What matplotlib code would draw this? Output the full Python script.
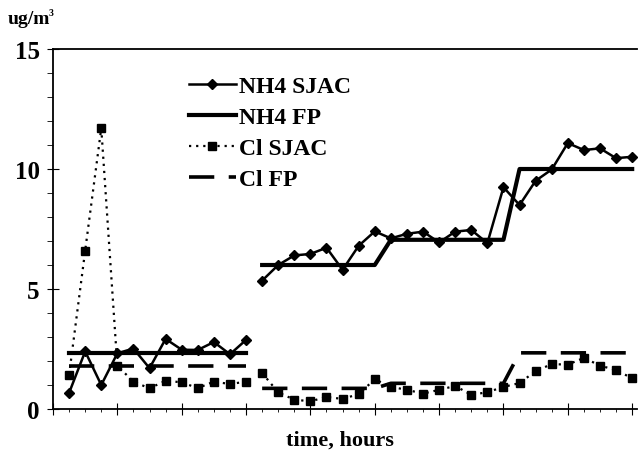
import numpy as np
import matplotlib
matplotlib.use("Agg")
import matplotlib.pyplot as plt
from matplotlib.ticker import MultipleLocator

plt.rcParams['font.family'] = ['Liberation Serif', 'DejaVu Serif']
plt.rcParams['font.weight'] = 'bold'

# two sampling runs, hourly
hours1 = list(range(1, 13))
hours2 = list(range(13, 37))

nh4_sjac1 = [0.67, 2.40, 1.0, 2.32, 2.52, 1.70, 2.92, 2.47, 2.46, 2.79, 2.28, 2.88]
nh4_sjac2 = [5.35, 6.0, 6.4, 6.46, 6.72, 5.8, 6.8, 7.4, 7.11, 7.3, 7.39, 6.94,
             7.39, 7.46, 6.91, 9.24, 8.5, 9.51, 9.98, 11.08, 10.79, 10.86, 10.45, 10.51]
nh4_fp1 = [2.33] * 12
nh4_fp2 = [6.0] * 8 + [7.05] * 8 + [10.0] * 8

cl_sjac1 = [1.42, 6.6, 11.7, 1.8, 1.14, 0.86, 1.18, 1.11, 0.87, 1.14, 1.04, 1.14]
cl_sjac2 = [1.5, 0.69, 0.39, 0.32, 0.5, 0.42, 0.62, 1.24, 0.92, 0.8, 0.64, 0.8,
            0.96, 0.59, 0.7, 0.92, 1.08, 1.58, 1.87, 1.85, 2.13, 1.81, 1.62, 1.28]
cl_fp1 = [1.8] * 12
cl_fp2 = [0.86] * 8 + [1.07] * 8 + [2.34] * 8

fig = plt.figure(figsize=(6.38, 4.6), dpi=100)
ax = fig.add_axes([53/638, 1 - 410/460, 584/638, 360/460])

k = 'black'
for h, v in [(hours1, nh4_sjac1), (hours2, nh4_sjac2)]:
    l1, = ax.plot(h, v, color=k, lw=1.8, marker='D', ms=4.8)
for h, v in [(hours1, nh4_fp1), (hours2, nh4_fp2)]:
    l2, = ax.plot(h, v, color=k, lw=3.0)
for h, v in [(hours1, cl_sjac1), (hours2, cl_sjac2)]:
    l3, = ax.plot(h, v, color=k, lw=1.6, ls=(0, (1, 2.2)), marker='s', ms=5.5)
for h, v in [(hours1, cl_fp1), (hours2, cl_fp2)]:
    l4, = ax.plot(h, v, color=k, lw=2.6, ls=(0, (7, 4)))

ax.set_xlim(0, 36.3)
ax.set_ylim(0, 15)
ax.xaxis.set_major_locator(MultipleLocator(4))
ax.xaxis.set_minor_locator(MultipleLocator(1))
ax.yaxis.set_major_locator(MultipleLocator(5))
ax.yaxis.set_minor_locator(MultipleLocator(1))
ax.tick_params(axis='x', which='major', direction='inout', length=8, labelbottom=False)
ax.tick_params(axis='x', which='minor', direction='out', length=2)
ax.tick_params(axis='y', which='major', direction='inout', length=9, labelsize=18, pad=5)
ax.tick_params(axis='y', which='minor', direction='out', length=4)
for lab in ax.get_yticklabels():
    lab.set_fontweight('bold')
ax.spines['right'].set_visible(False)
for s in ['left', 'bottom', 'top']:
    ax.spines[s].set_linewidth(1.3)

fig.text(8/638, 1 - 24/460, 'ug/m', fontsize=14, fontweight='bold', va='baseline')
fig.text(49/638, 1 - 16/460, '3', fontsize=7, fontweight='bold', va='baseline')
fig.text(340/638, 1 - 446/460, 'time, hours', fontsize=16, fontweight='bold', ha='center')

leg = ax.legend([l1, l2, l3, l4], ['NH4 SJAC', 'NH4 FP', 'Cl SJAC', 'Cl FP'],
                loc='upper left', bbox_to_anchor=(0.196, 0.985), frameon=False,
                handlelength=2.0, handletextpad=0.15, labelspacing=0.4,
                numpoints=1, prop={'weight': 'bold', 'size': 17})

fig.savefig('out.png', dpi=100)
